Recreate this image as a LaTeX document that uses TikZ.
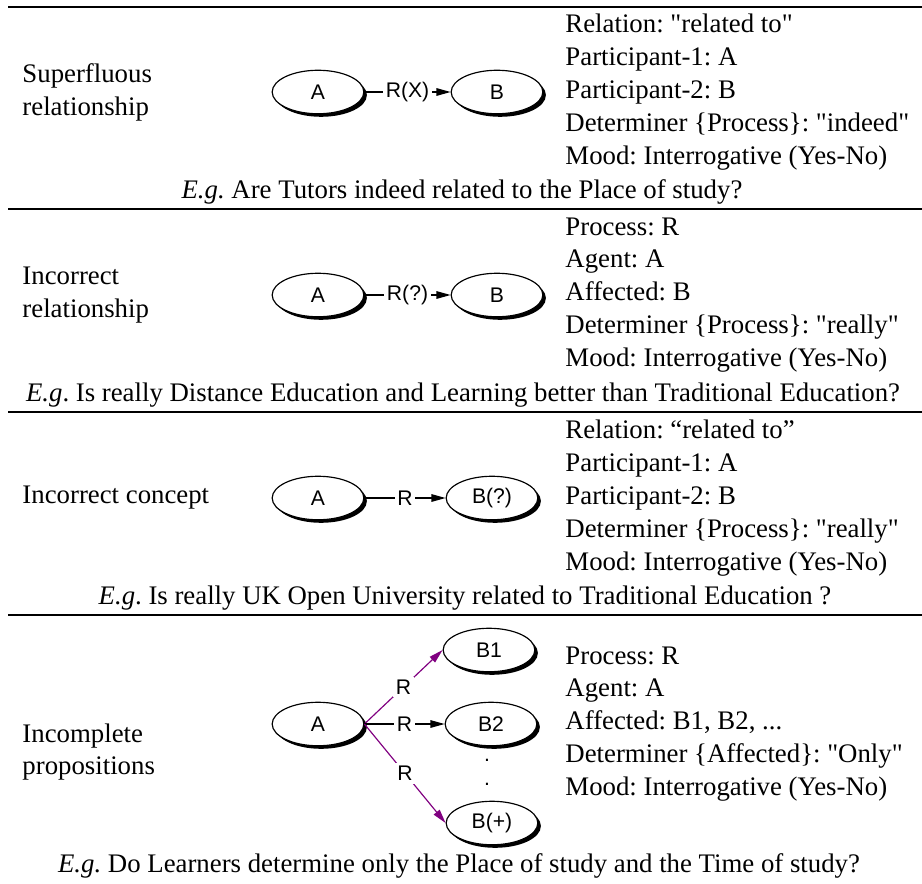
\documentclass[tikz,border=0pt]{standalone}
\usepackage{fontspec}
\setmainfont{Liberation Serif}
\setsansfont{Liberation Sans}
\usetikzlibrary{shapes.geometric,shadows,arrows.meta}
\definecolor{relpurple}{RGB}{128,0,128}
\newcommand{\sq}[1]{\textquotedbl#1\textquotedbl}
\begin{document}
\frenchspacing
\begin{tikzpicture}[x=0.4255pt, y=-0.4255pt,
    concept/.style = {shape=ellipse, draw, fill=white, line width=0.5pt,
      minimum width=39pt, minimum height=18.5pt, inner sep=0pt,
      font=\sffamily\fontsize{9}{10}\selectfont,
      drop shadow={shadow xshift=1.3pt, shadow yshift=-1.3pt,
        opacity=1, fill=black}},
    rel/.style = {fill=white, inner sep=1.2pt,
      font=\sffamily\fontsize{9}{10}\selectfont},
    link/.style = {-{Triangle[length=6pt,width=3.2pt]}, line width=0.5pt},
    case/.style = {anchor=west, align=left, inner sep=0pt,
      font=\fontsize{11.4}{14}\selectfont},
    info/.style = {anchor=west, align=left, inner sep=0pt,
      font=\fontsize{11.4}{14}\selectfont},
    example/.style = {inner sep=0pt, font=\fontsize{11.4}{14}\selectfont}]
  \useasboundingbox (0,0) rectangle (922,883);
  \foreach \ry in {7,209,412,615}
    \draw[line width=0.8pt] (8,\ry) -- (922,\ry);

  % superfluous relationship
  \node[case] (sup-case) at (22,92) {Superfluous\\relationship};
  \node[concept] (sup-a) at (318,92) {A};
  \node[concept] (sup-b) at (497,92) {B};
  \draw[link] (sup-a) -- node[rel] {R(X)} (sup-b);
  \node[info] (sup-info) at (565,92) {Relation: \sq{related to}\\
    Participant-1: A\\ Participant-2: B\\
    Determiner \{Process\}: \sq{indeed}\\ Mood: Interrogative (Yes-No)};
  \node[example] (sup-eg) at (462,192)
    {\textit{E.g.} Are Tutors indeed related to the Place of study?};

  % incorrect relationship
  \node[case] (rel-case) at (22,295) {Incorrect\\relationship};
  \node[concept] (rel-a) at (318,295) {A};
  \node[concept] (rel-b) at (497,295) {B};
  \draw[link] (rel-a) -- node[rel] {R(?)} (rel-b);
  \node[info] (rel-info) at (565,295) {Process: R\\
    Agent: A\\ Affected: B\\
    Determiner \{Process\}: \sq{really}\\ Mood: Interrogative (Yes-No)};
  \node[example] (rel-eg) at (463,395)
    {\textit{E.g}. Is really Distance Education and Learning better than Traditional Education?};

  % incorrect concept
  \node[case] (con-case) at (22,498) {Incorrect concept};
  \node[concept] (con-a) at (318,498) {A};
  \node[concept] (con-b) at (492,498) {B(?)};
  \draw[link] (con-a) -- node[rel] {R} (con-b);
  \node[info] (con-info) at (565,498) {Relation: “related to”\\
    Participant-1: A\\ Participant-2: B\\
    Determiner \{Process\}: \sq{really}\\ Mood: Interrogative (Yes-No)};
  \node[example] (con-eg) at (465,598)
    {\textit{E.g}. Is really UK Open University related to Traditional Education ?};

  % incomplete propositions
  \node[case] (inc-case) at (22,752) {Incomplete\\propositions};
  \node[concept] (inc-a) at (318,724) {A};
  \node[concept] (inc-b1) at (489,650) {B1};
  \node[concept] (inc-b2) at (491,724) {B2};
  \node[concept] (inc-bn) at (492,823) {B(+)};
  \node[rel, fill=none] (dot-1) at (487,760) {.};
  \node[rel, fill=none] (dot-2) at (487,784) {.};
  \draw[link, relpurple] (inc-a.east) -- node[rel, text=black] {R} (inc-b1.west);
  \draw[link] (inc-a.east) -- node[rel] {R} (inc-b2.west);
  \draw[link, relpurple] (inc-a.east) -- node[rel, text=black] {R} (inc-bn.west);
  \node[info] (inc-info) at (565,724) {Process: R\\
    Agent: A\\ Affected: B1, B2, ...\\
    Determiner \{Affected\}: \sq{Only}\\ Mood: Interrogative (Yes-No)};
  \node[example] (inc-eg) at (459,866)
    {\textit{E.g.} Do Learners determine only the Place of study and the Time of study?};
\end{tikzpicture}
\end{document}
